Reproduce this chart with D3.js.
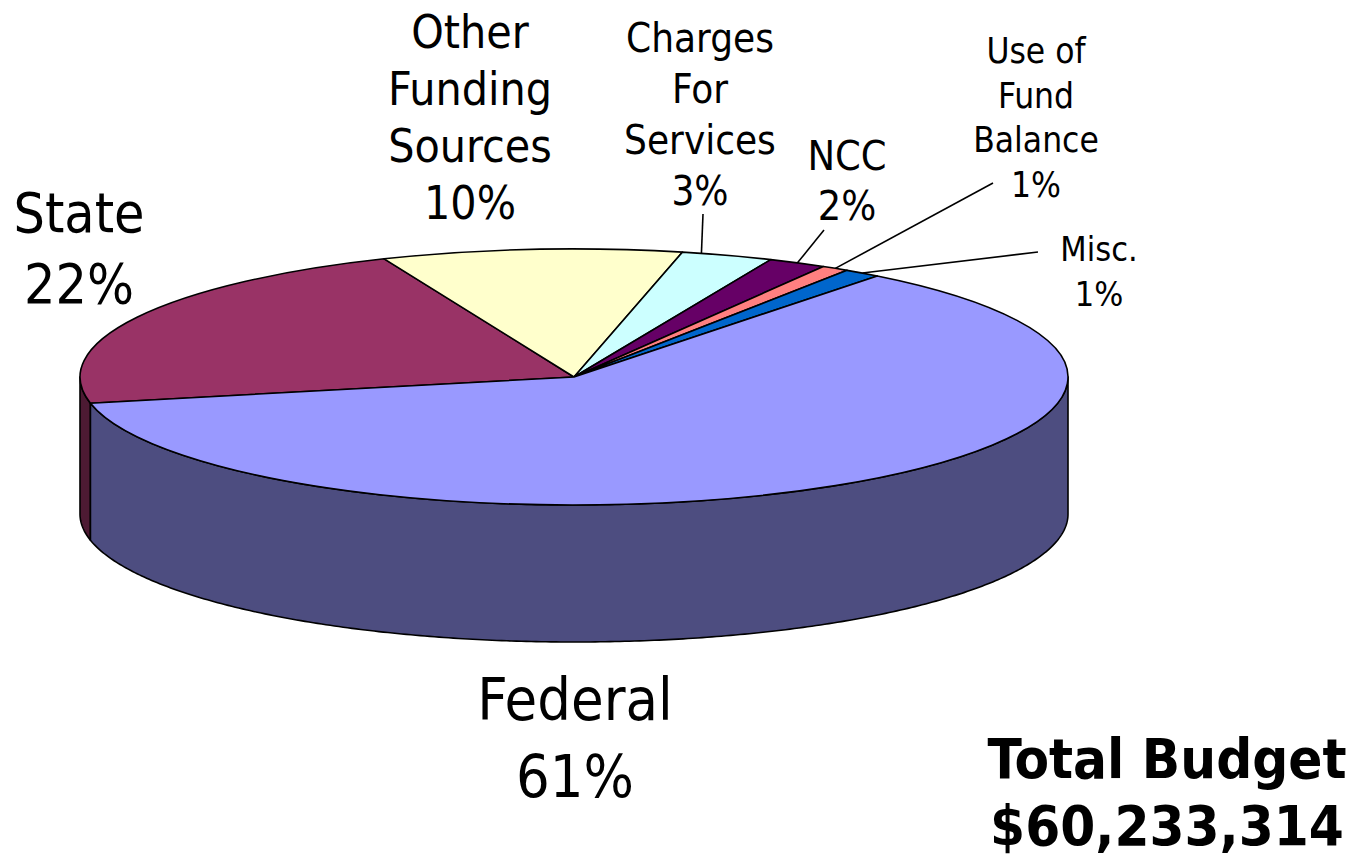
<!DOCTYPE html>
<html>
<head>
<meta charset="utf-8">
<script src="https://cdn.jsdelivr.net/npm/d3@7"></script>
<style>
  body { margin: 0; background: #fff; }
  text { font-family: "DejaVu Sans Condensed", "DejaVu Sans", sans-serif; font-stretch: condensed; fill: #000; }
</style>
</head>
<body>
<svg id="chart" width="1372" height="858"></svg>
<script>
// data (share of total budget, %)
var categories = ["State", "Other Funding Sources", "Charges For Services", "NCC", "Use of Fund Balance", "Misc.", "Federal"];
var shares = [22.0, 9.8, 3.0, 1.9, 0.9, 1.2, 61.2];
var labelLines = [["State"], ["Other", "Funding", "Sources"], ["Charges", "For", "Services"], ["NCC"], ["Use of", "Fund", "Balance"], ["Misc."], ["Federal"]];
var topColors = ["#993366", "#ffffcc", "#ccffff", "#660066", "#ff8080", "#0066cc", "#9999ff"];
var totalTitle = ["Total Budget", "$60,233,314"];

// label placement: centre x, first baseline, font size, line step, leader start, where along slice the leader lands
var labelPos = [
  { x: 79, y: 232, size: 55, lh: 71 },
  { x: 470, y: 48, size: 46, lh: 57 },
  { x: 700, y: 52, size: 40, lh: 51, lead: [703, 214], frac: 0.21 },
  { x: 847, y: 170, size: 41, lh: 50, lead: [824, 230], frac: 0.5 },
  { x: 1036, y: 63, size: 35, lh: 44.5, lead: [993, 183], frac: 0.5 },
  { x: 1099, y: 261, size: 34, lh: 45, lead: [1038, 252], frac: 0.5 },
  { x: 575, y: 720, size: 59, lh: 77 }
];

var cx = 574, cy = 377, rx = 494, ry = 128, depth = 137;
var startDeg = 258.2;

var svg = d3.select("#chart");

var pie = d3.pie()
  .sort(null)
  .value(function (d) { return d; })
  .startAngle(startDeg * Math.PI / 180)
  .endAngle(startDeg * Math.PI / 180 + 2 * Math.PI);

var arcs = pie(shares);
var total = d3.sum(shares);
var pct = d3.format(".0%");

function ell(a, dy) {
  return [cx + rx * Math.sin(a), cy - ry * Math.cos(a) + (dy || 0)];
}

// side walls, only the front half of the rim shows
var line = d3.line();
var sides = svg.append("g");
arcs.forEach(function (d, i) {
  for (var k = -1; k <= 2; k++) {
    var lo = Math.max(d.startAngle, Math.PI / 2 + 2 * Math.PI * k);
    var hi = Math.min(d.endAngle, 3 * Math.PI / 2 + 2 * Math.PI * k);
    if (hi <= lo) continue;
    var n = Math.max(4, Math.ceil((hi - lo) / 0.01));
    var topPts = d3.range(n + 1).map(function (j) { return ell(lo + (hi - lo) * j / n, 0); });
    var botPts = topPts.slice().reverse().map(function (p) { return [p[0], p[1] + depth]; });
    sides.append("path")
      .attr("d", line(topPts.concat(botPts)) + "Z")
      .attr("fill", d3.color(topColors[i]).darker(1.943))
      .attr("stroke", "#000")
      .attr("stroke-width", 1.6)
      .attr("stroke-linejoin", "round");
  }
});

// top face: a flat pie squashed into an ellipse
var arc = d3.arc().innerRadius(0).outerRadius(rx);
svg.append("g")
  .attr("transform", "translate(" + cx + "," + cy + ") scale(1," + (ry / rx) + ")")
  .selectAll("path")
  .data(arcs)
  .enter()
  .append("path")
  .attr("d", arc)
  .attr("fill", function (d, i) { return topColors[i]; })
  .attr("stroke", "#000")
  .attr("stroke-width", 1.6)
  .attr("stroke-linejoin", "round")
  .attr("vector-effect", "non-scaling-stroke");

// leader lines
arcs.forEach(function (d, i) {
  var p = labelPos[i];
  if (!p.lead) return;
  var end = ell(d.startAngle + p.frac * (d.endAngle - d.startAngle), 0);
  svg.append("line")
    .attr("x1", p.lead[0]).attr("y1", p.lead[1])
    .attr("x2", end[0]).attr("y2", end[1])
    .attr("stroke", "#000")
    .attr("stroke-width", 1.6);
});

// labels
arcs.forEach(function (d, i) {
  var p = labelPos[i];
  var lines = labelLines[i].concat([pct(d.value / total)]);
  var t = svg.append("text")
    .attr("text-anchor", "middle")
    .attr("font-size", p.size);
  lines.forEach(function (s, j) {
    t.append("tspan")
      .attr("x", p.x)
      .attr("y", p.y + j * p.lh)
      .text(s);
  });
});

// total
var tt = svg.append("text")
  .attr("text-anchor", "middle")
  .attr("font-size", 56)
  .attr("font-weight", "bold");
totalTitle.forEach(function (s, j) {
  tt.append("tspan").attr("x", 1167).attr("y", 778 + j * 67).text(s);
});
</script>
</body>
</html>
